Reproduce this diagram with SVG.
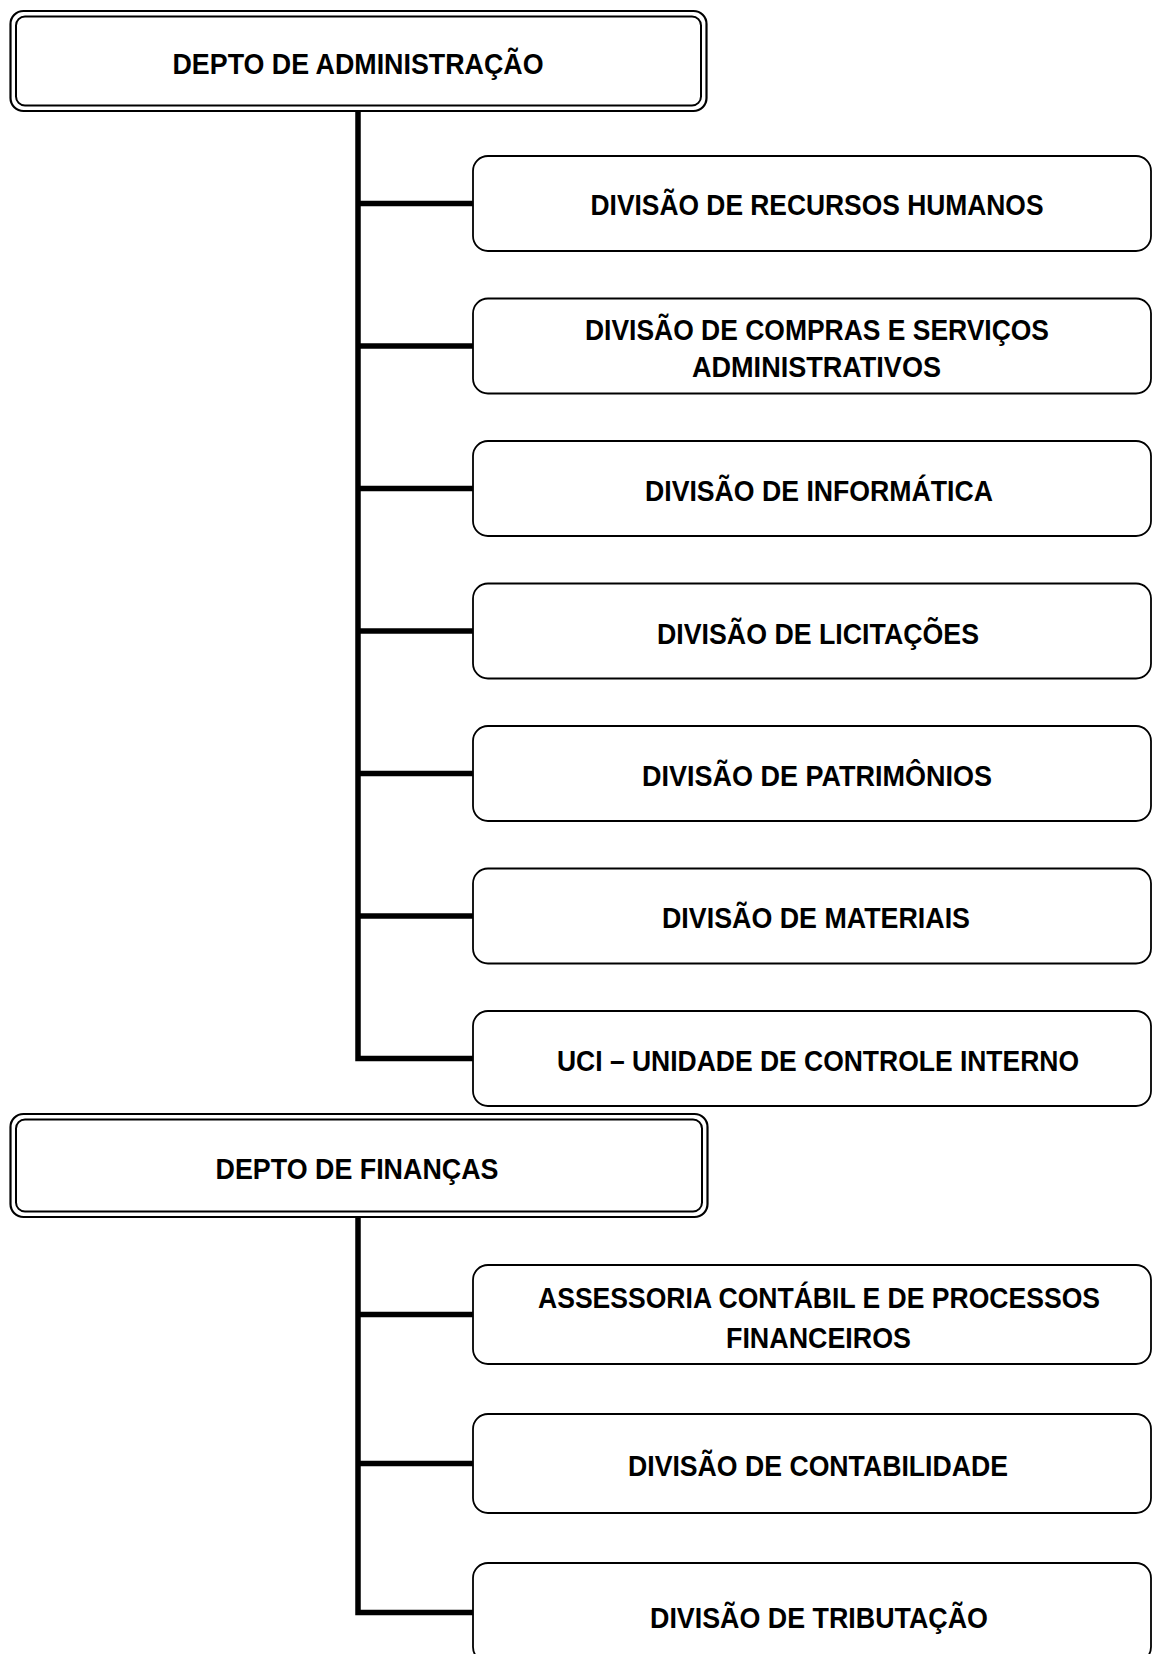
<svg xmlns="http://www.w3.org/2000/svg" width="1152" height="1654" viewBox="0 0 1152 1654">
<style>
.bg{fill:#fff}
.outer{fill:#fff;stroke:#000;stroke-width:2.2}
.inner{fill:none;stroke:#000;stroke-width:2}
.box{fill:#fff;stroke:#000;stroke-width:1.8}
.t{font-family:"Liberation Sans Narrow","Liberation Sans",Arial,sans-serif;font-weight:bold;font-size:29px;fill:#000;text-anchor:middle}
.c{fill:none;stroke:#000;stroke-width:5.5;stroke-linejoin:miter;stroke-linecap:butt}
</style>
<rect class="bg" x="0" y="0" width="1152" height="1654"/>
<g id="connectors">
<path class="c" d="M358 111 V1058.5 H473"/>
<path class="c" d="M358 203.5 H473"/>
<path class="c" d="M358 346 H473"/>
<path class="c" d="M358 488.5 H473"/>
<path class="c" d="M358 631 H473"/>
<path class="c" d="M358 773.5 H473"/>
<path class="c" d="M358 916 H473"/>
<path class="c" d="M358 1217 V1612.5 H473"/>
<path class="c" d="M358 1314.5 H473"/>
<path class="c" d="M358 1463.5 H473"/>
</g>
<g id="depto-adm">
<rect class="outer" x="10.5" y="11" width="696" height="100" rx="13"/>
<rect class="inner" x="16" y="16.5" width="685" height="89" rx="9"/>
<text class="t" x="358" y="74" textLength="371" lengthAdjust="spacingAndGlyphs">DEPTO DE ADMINISTRAÇÃO</text>
</g>
<g id="div-rh">
<rect class="box" x="473" y="156" width="678" height="95" rx="15"/>
<text class="t" x="817" y="215" textLength="453" lengthAdjust="spacingAndGlyphs">DIVISÃO DE RECURSOS HUMANOS</text>
</g>
<g id="div-compras">
<rect class="box" x="473" y="298.5" width="678" height="95" rx="15"/>
<text class="t" x="817" y="340" textLength="464" lengthAdjust="spacingAndGlyphs">DIVISÃO DE COMPRAS E SERVIÇOS</text>
<text class="t" x="816.5" y="377" textLength="249" lengthAdjust="spacingAndGlyphs">ADMINISTRATIVOS</text>
</g>
<g id="div-informatica">
<rect class="box" x="473" y="441" width="678" height="95" rx="15"/>
<text class="t" x="819" y="501" textLength="348" lengthAdjust="spacingAndGlyphs">DIVISÃO DE INFORMÁTICA</text>
</g>
<g id="div-licitacoes">
<rect class="box" x="473" y="583.5" width="678" height="95" rx="15"/>
<text class="t" x="818" y="644" textLength="322" lengthAdjust="spacingAndGlyphs">DIVISÃO DE LICITAÇÕES</text>
</g>
<g id="div-patrimonios">
<rect class="box" x="473" y="726" width="678" height="95" rx="15"/>
<text class="t" x="817" y="786" textLength="350" lengthAdjust="spacingAndGlyphs">DIVISÃO DE PATRIMÔNIOS</text>
</g>
<g id="div-materiais">
<rect class="box" x="473" y="868.5" width="678" height="95" rx="15"/>
<text class="t" x="816" y="928" textLength="308" lengthAdjust="spacingAndGlyphs">DIVISÃO DE MATERIAIS</text>
</g>
<g id="uci">
<rect class="box" x="473" y="1011" width="678" height="95" rx="15"/>
<text class="t" x="818" y="1071" textLength="522" lengthAdjust="spacingAndGlyphs">UCI – UNIDADE DE CONTROLE INTERNO</text>
</g>
<g id="depto-fin">
<rect class="outer" x="10.5" y="1114" width="697" height="103" rx="13"/>
<rect class="inner" x="16" y="1119.5" width="686" height="92" rx="9"/>
<text class="t" x="357" y="1179" textLength="283" lengthAdjust="spacingAndGlyphs">DEPTO DE FINANÇAS</text>
</g>
<g id="assessoria">
<rect class="box" x="473" y="1265" width="678" height="99" rx="15"/>
<text class="t" x="819" y="1308" textLength="562" lengthAdjust="spacingAndGlyphs">ASSESSORIA CONTÁBIL E DE PROCESSOS</text>
<text class="t" x="818.5" y="1348" textLength="185" lengthAdjust="spacingAndGlyphs">FINANCEIROS</text>
</g>
<g id="div-contabilidade">
<rect class="box" x="473" y="1414" width="678" height="99" rx="15"/>
<text class="t" x="818" y="1476" textLength="380" lengthAdjust="spacingAndGlyphs">DIVISÃO DE CONTABILIDADE</text>
</g>
<g id="div-tributacao">
<rect class="box" x="473" y="1563" width="678" height="99" rx="15"/>
<text class="t" x="819" y="1628" textLength="338" lengthAdjust="spacingAndGlyphs">DIVISÃO DE TRIBUTAÇÃO</text>
</g>
</svg>
